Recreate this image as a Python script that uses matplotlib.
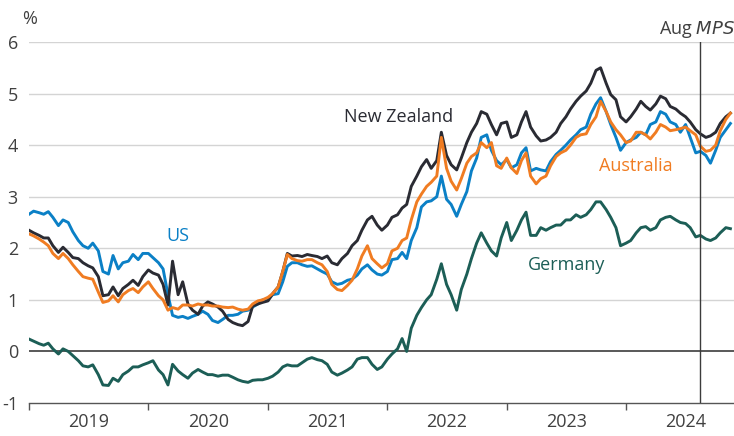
import numpy as np
import pandas as pd
import matplotlib
matplotlib.use("Agg")
import matplotlib.pyplot as plt
import matplotlib.dates as mdates

plt.rcParams['font.family'] = ['Open Sans', 'DejaVu Sans']

# 10-year government bond yields (%), semi-monthly readings, Jan 2019 - Nov 2024
dates = pd.date_range("2019-01-01", periods=142, freq="SMS")

us = [2.66, 2.72, 2.69, 2.66, 2.71, 2.60, 2.44, 2.55, 2.50, 2.32, 2.15, 2.05,
      2.00, 2.10, 1.95, 1.55, 1.50, 1.86, 1.60, 1.72, 1.75, 1.88, 1.78, 1.90,
      1.90, 1.82, 1.72, 1.60, 1.10, 0.70, 0.66, 0.68, 0.64, 0.68, 0.72, 0.78,
      0.72, 0.60, 0.56, 0.62, 0.70, 0.70, 0.72, 0.78, 0.80, 0.86, 0.92, 1.00,
      1.00, 1.10, 1.12, 1.35, 1.65, 1.72, 1.72, 1.68, 1.65, 1.66, 1.60, 1.55,
      1.50, 1.35, 1.30, 1.32, 1.38, 1.40, 1.48, 1.60, 1.68, 1.58, 1.50, 1.48,
      1.55, 1.78, 1.80, 1.92, 1.80, 2.15, 2.40, 2.80, 2.90, 2.92, 3.00, 3.40,
      2.95, 2.85, 2.62, 2.85, 3.10, 3.50, 3.75, 4.15, 4.20, 3.90, 3.70, 3.62,
      3.72, 3.56, 3.62, 3.85, 3.95, 3.50, 3.55, 3.52, 3.50, 3.68, 3.82, 3.90,
      4.00, 4.10, 4.20, 4.30, 4.35, 4.60, 4.80, 4.92, 4.65, 4.40, 4.15, 3.90,
      4.05, 4.10, 4.15, 4.25, 4.20, 4.40, 4.45, 4.65, 4.60, 4.45, 4.40, 4.25,
      4.40, 4.15, 3.85, 3.88, 3.80, 3.65, 3.90, 4.15, 4.30, 4.42]

nz = [2.35, 2.30, 2.25, 2.20, 2.20, 2.05, 1.92, 2.02, 1.92, 1.82, 1.80, 1.72,
      1.66, 1.62, 1.45, 1.08, 1.10, 1.25, 1.08, 1.22, 1.30, 1.38, 1.28, 1.45,
      1.58, 1.52, 1.48, 1.30, 0.90, 1.75, 1.10, 1.35, 0.92, 0.80, 0.72, 0.88,
      0.96, 0.92, 0.86, 0.78, 0.62, 0.56, 0.52, 0.50, 0.58, 0.88, 0.92, 0.95,
      0.98, 1.12, 1.25, 1.55, 1.90, 1.85, 1.86, 1.84, 1.88, 1.86, 1.84, 1.80,
      1.85, 1.72, 1.68, 1.80, 1.90, 2.05, 2.15, 2.35, 2.55, 2.62, 2.45, 2.35,
      2.45, 2.60, 2.65, 2.78, 2.85, 3.20, 3.40, 3.58, 3.72, 3.55, 3.70, 4.25,
      3.80, 3.62, 3.52, 3.75, 4.05, 4.25, 4.42, 4.65, 4.60, 4.40, 4.20, 4.42,
      4.45, 4.15, 4.20, 4.45, 4.65, 4.35, 4.18, 4.08, 4.10, 4.15, 4.25, 4.42,
      4.55, 4.70, 4.85, 4.95, 5.05, 5.20, 5.45, 5.50, 5.20, 4.98, 4.88, 4.55,
      4.45, 4.55, 4.70, 4.85, 4.75, 4.68, 4.80, 4.95, 4.90, 4.75, 4.70, 4.62,
      4.55, 4.45, 4.30, 4.22, 4.15, 4.18, 4.25, 4.42, 4.55, 4.62]

au = [2.28, 2.24, 2.18, 2.12, 2.05, 1.90, 1.80, 1.90, 1.80, 1.68, 1.55, 1.45,
      1.42, 1.40, 1.15, 0.95, 0.98, 1.08, 0.96, 1.10, 1.18, 1.22, 1.14, 1.25,
      1.35, 1.22, 1.08, 1.00, 0.80, 0.85, 0.82, 0.90, 0.90, 0.88, 0.92, 0.90,
      0.90, 0.88, 0.88, 0.86, 0.85, 0.86, 0.82, 0.80, 0.82, 0.92, 0.98, 1.00,
      1.05, 1.12, 1.25, 1.55, 1.88, 1.80, 1.76, 1.75, 1.78, 1.78, 1.72, 1.68,
      1.55, 1.30, 1.20, 1.18, 1.28, 1.38, 1.60, 1.85, 2.05, 1.80, 1.70, 1.62,
      1.70, 1.95, 2.00, 2.15, 2.20, 2.55, 2.90, 3.05, 3.20, 3.28, 3.40, 4.15,
      3.55, 3.30, 3.13, 3.35, 3.65, 3.78, 3.85, 4.05, 3.95, 4.05, 3.60, 3.55,
      3.75, 3.56, 3.45, 3.70, 3.85, 3.40, 3.25, 3.35, 3.40, 3.60, 3.78, 3.85,
      3.90, 4.00, 4.15, 4.20, 4.22, 4.40, 4.55, 4.85, 4.65, 4.45, 4.30, 4.20,
      4.05, 4.08, 4.25, 4.25, 4.20, 4.12, 4.25, 4.40, 4.35, 4.28, 4.30, 4.32,
      4.35, 4.28, 4.20, 3.98, 3.88, 3.90, 4.00, 4.28, 4.50, 4.62]

de = [0.24, 0.20, 0.15, 0.12, 0.16, 0.05, -0.05, 0.05, 0.00, -0.08, -0.18, -0.28,
      -0.30, -0.26, -0.45, -0.65, -0.66, -0.52, -0.58, -0.45, -0.38, -0.30, -0.30, -0.26,
      -0.22, -0.18, -0.36, -0.45, -0.65, -0.25, -0.38, -0.45, -0.52, -0.42, -0.35, -0.40,
      -0.45, -0.45, -0.48, -0.46, -0.46, -0.50, -0.55, -0.58, -0.60, -0.56, -0.55, -0.55,
      -0.52, -0.48, -0.40, -0.30, -0.26, -0.28, -0.28, -0.22, -0.15, -0.12, -0.16, -0.18,
      -0.25, -0.40, -0.46, -0.42, -0.36, -0.30, -0.15, -0.12, -0.12, -0.25, -0.35, -0.30,
      -0.15, -0.05, 0.05, 0.25, 0.00, 0.45, 0.70, 0.85, 1.00, 1.10, 1.40, 1.70,
      1.30, 1.10, 0.80, 1.20, 1.50, 1.80, 2.10, 2.30, 2.10, 1.95, 1.85, 2.20,
      2.50, 2.15, 2.35, 2.55, 2.70, 2.25, 2.25, 2.40, 2.35, 2.40, 2.45, 2.45,
      2.55, 2.55, 2.65, 2.60, 2.65, 2.75, 2.90, 2.90, 2.75, 2.60, 2.40, 2.05,
      2.10, 2.15, 2.30, 2.40, 2.42, 2.35, 2.40, 2.55, 2.60, 2.62, 2.55, 2.50,
      2.48, 2.40, 2.22, 2.25, 2.18, 2.15, 2.20, 2.30, 2.40, 2.38]

mps_date = pd.Timestamp("2024-08-14")
year_labels = ["2019", "2020", "2021", "2022", "2023", "2024"]

c_us = "#0b80c6"
c_nz = "#2a2b33"
c_au = "#f07c22"
c_de = "#1c5e56"
c_text = "#404040"
fs = 13

fig = plt.figure(figsize=(7.34, 4.36), dpi=100)
ax = fig.add_axes([29 / 734, 33 / 436, 1 - 29 / 734, (403 - 42) / 436])

for y in range(1, 7):
    ax.axhline(y, color="#d4d4d4", lw=1, zorder=0)
ax.axhline(0, color="#3c3c3c", lw=1.2, zorder=1)

lw = 2.1
ax.plot(dates, de, color=c_de, lw=lw, zorder=3)
ax.plot(dates, us, color=c_us, lw=lw, zorder=3)
ax.plot(dates, nz, color=c_nz, lw=lw, zorder=4)
ax.plot(dates, au, color=c_au, lw=lw, zorder=5)

ax.axvline(mps_date, color="#3c3c3c", lw=1, zorder=6)

ax.set_ylim(-1, 6)
ax.set_xlim(pd.Timestamp("2019-01-01"), pd.Timestamp("2024-11-26"))

for s in ["top", "right", "left"]:
    ax.spines[s].set_visible(False)
ax.spines["bottom"].set_color("#555555")
ax.spines["bottom"].set_linewidth(1)

ax.set_yticks(range(-1, 7))
ax.set_yticklabels([str(v) for v in range(-1, 7)])
ax.tick_params(axis="y", length=0, pad=8, labelsize=fs, labelcolor=c_text)

starts = [pd.Timestamp(f"{y}-01-01") for y in year_labels]
mids = [pd.Timestamp(f"{y}-07-02") for y in year_labels]
ax.set_xticks(starts)
ax.set_xticklabels([])
ax.set_xticks(mids, minor=True)
ax.set_xticklabels(year_labels, minor=True)
ax.tick_params(axis="x", which="major", length=5, color="#555555", width=1)
ax.tick_params(axis="x", which="minor", length=0, pad=7, labelsize=fs, labelcolor=c_text)

fig.text(29.5 / 734, 1 - 19 / 436, "%", ha="center", va="center", fontsize=fs, color=c_text)
fig.text(697 / 734, 1 - 30 / 436, "Aug $\\it{MPS}$", ha="center", va="center",
         fontsize=fs, color=c_text)

ax.text(pd.Timestamp("2020-04-01"), 2.24, "US", color=c_us, fontsize=fs, ha="center", va="center")
ax.text(pd.Timestamp("2022-02-03"), 4.55, "New Zealand", color=c_nz, fontsize=fs, ha="center", va="center")
ax.text(pd.Timestamp("2024-01-30"), 3.6, "Australia", color=c_au, fontsize=fs, ha="center", va="center")
ax.text(pd.Timestamp("2023-07-04"), 1.68, "Germany", color=c_de, fontsize=fs, ha="center", va="center")

fig.savefig("out.png", dpi=100)
